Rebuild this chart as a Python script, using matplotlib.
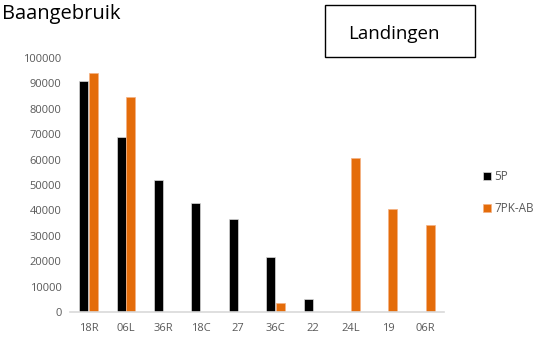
import matplotlib
matplotlib.use("Agg")
import matplotlib.pyplot as plt
import numpy as np
from matplotlib.patches import Rectangle

categories = ["18R", "06L", "36R", "18C", "27", "36C", "22", "24L", "19", "06R"]
s5p = [91000, 69000, 52000, 43000, 36600, 21600, 5200, 0, 0, 0]
s7pk = [94000, 84700, 0, 0, 0, 3700, 0, 60600, 40500, 34200]
series_names = ["5P", "7PK-AB"]
yticks = [0, 10000, 20000, 30000, 40000, 50000, 60000, 70000, 80000, 90000, 100000]

plt.rcParams['font.family'] = ['Open Sans', 'DejaVu Sans']
fig = plt.figure(figsize=(5.45, 3.4), dpi=100)
ax = fig.add_axes([0.128, 0.0824, 0.687, 0.747])

x = np.arange(len(categories))
w = 0.24
ax.bar(x - w/2 - 0.01, s5p, width=w, color="black", edgecolor="#d9d9d9", linewidth=0.5, label=series_names[0])
ax.bar(x + w/2 + 0.01, s7pk, width=w, color="#e46c0a", edgecolor="#f4b183", linewidth=0.5, label=series_names[1])

ax.set_xlim(-0.5, 9.5)
ax.set_ylim(0, 100000)
ax.set_yticks(yticks)
ax.set_yticklabels([str(v) for v in yticks])
ax.set_xticks(x)
ax.set_xticklabels(categories)
for s in ["top", "right", "left"]:
    ax.spines[s].set_visible(False)
ax.spines["bottom"].set_color("#d9d9d9")
ax.spines["bottom"].set_linewidth(1.2)
ax.tick_params(axis="both", length=0, colors="#595959", labelsize=8)
ax.tick_params(axis="x", pad=8)
ax.tick_params(axis="y", pad=6)

leg = fig.legend(loc="upper left", bbox_to_anchor=(0.866, 0.53), frameon=False,
                 fontsize=8.5, labelcolor="#595959", handlelength=0.7, handleheight=0.7,
                 handletextpad=0.3, labelspacing=1.6)

fig.text(0.003, 1 - 19/340, "Baangebruik", fontsize=14.5, color="black", ha="left", va="baseline")

fig.add_artist(Rectangle((325/545, 1-57/340), 150/545, 52/340, transform=fig.transFigure,
                         facecolor="white", edgecolor="black", linewidth=1.0))
fig.text(394/545, 1-34/340, "Landingen", fontsize=13.5, color="black", ha="center", va="center")

fig.savefig("out.png", dpi=100)
